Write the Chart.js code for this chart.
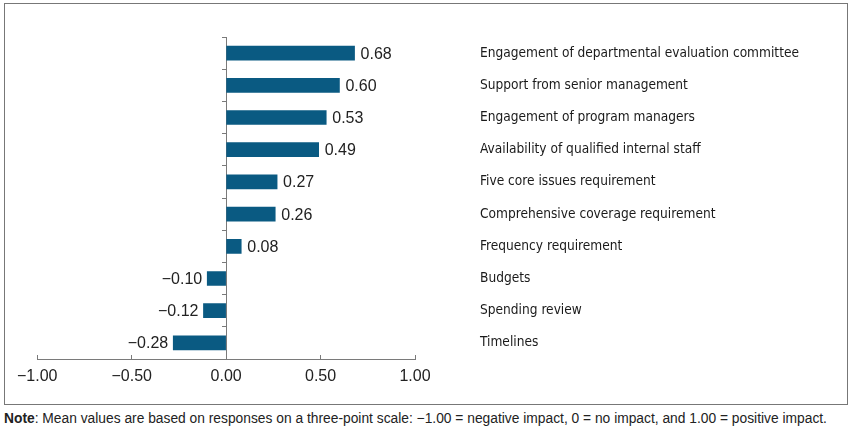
<!DOCTYPE html>
<html>
<head>
<meta charset="utf-8">
<script src="https://cdn.jsdelivr.net/npm/chart.js@4/dist/chart.umd.min.js"></script>
<style>
  body { margin: 0; background: #fff; font-family: 'Liberation Sans', Arial, sans-serif; }
  #box { position: absolute; left: 4px; top: 3px; width: 842px; height: 400px; border: 1px solid #777; }
  #note { position: absolute; left: 4px; top: 411px; font-size: 13.8px; color: #222; white-space: nowrap; }
</style>
</head>
<body>
<div id="box"><canvas id="chart" width="842" height="400"></canvas></div>
<div id="note"><b>Note</b>: Mean values are based on responses on a three-point scale: −1.00 = negative impact, 0 = no impact, and 1.00 = positive impact.</div>
<script>
// Catégories (du haut vers le bas)
const categories = [
    'Engagement of departmental evaluation committee',
    'Support from senior management',
    'Engagement of program managers',
    'Availability of qualified internal staff',
    'Five core issues requirement',
    'Comprehensive coverage requirement',
    'Frequency requirement',
    'Budgets',
    'Spending review',
    'Timelines'
];
const meanValues = [0.68, 0.60, 0.53, 0.49, 0.27, 0.26, 0.08, -0.10, -0.12, -0.28];
const xTicks = [-1, -0.5, 0, 0.5, 1];

const barColor = '#0a5a82';
const axisColor = '#7a7a7a';

// format avec le vrai signe moins
function fmt(v) {
    let s = Math.abs(v).toFixed(2);
    return v < 0 ? '\u2212' + s : s;
}

// Étiquettes de valeur au bout des barres
const valueLabels = {
    id: 'valueLabels',
    afterDatasetsDraw(chart) {
        const ctx = chart.ctx;
        const meta = chart.getDatasetMeta(0);
        ctx.save();
        ctx.font = '16px "Liberation Sans", Arial, sans-serif';
        ctx.fillStyle = '#222';
        ctx.textBaseline = 'middle';
        meta.data.forEach((bar, i) => {
            const v = meanValues[i];
            if (v >= 0) {
                ctx.textAlign = 'left';
                ctx.fillText(fmt(v), bar.x + 6, bar.y + 1);
            } else {
                ctx.textAlign = 'right';
                ctx.fillText(fmt(v), bar.x - 5, bar.y + 1);
            }
        });
        ctx.restore();
    }
};

new Chart(
    document.getElementById('chart'),
    {
        type: 'bar',
        data: {
            labels: categories,
            datasets: [{
                data: meanValues,
                backgroundColor: barColor,
                barThickness: 14
            }]
        },
        options: {
            indexAxis: 'y',
            responsive: false,
            animation: false,
            layout: {
                padding: { left: 31, top: 33, right: 0, bottom: 0 }
            },
            plugins: {
                legend: { display: false },
                tooltip: { enabled: false }
            },
            scales: {
                x: {
                    min: -1,
                    max: 1,
                    afterFit: s => { s.height = 45; },
                    afterBuildTicks: s => { s.ticks = xTicks.map(v => ({ value: v })); },
                    ticks: {
                        color: '#222',
                        padding: 12,
                        font: { size: 16, family: '"Liberation Sans", Arial, sans-serif' },
                        callback: v => fmt(v)
                    },
                    grid: {
                        drawOnChartArea: false,
                        tickLength: -4,
                        color: axisColor
                    },
                    border: { color: axisColor }
                },
                y: {
                    position: { x: 0 },
                    ticks: { display: false },
                    grid: {
                        drawOnChartArea: false,
                        tickLength: 4,
                        color: axisColor
                    },
                    border: { color: axisColor }
                },
                y2: {
                    type: 'category',
                    labels: categories,
                    position: 'right',
                    offset: true,
                    afterFit: s => { s.width = 432; },
                    ticks: {
                        color: '#1a1a1a',
                        padding: 2,
                        font: { size: 13.6, family: '"Liberation Sans Narrow", "DejaVu Sans Condensed", sans-serif' }
                    },
                    grid: {
                        drawOnChartArea: false,
                        tickLength: 63,
                        color: 'rgba(0,0,0,0)'
                    },
                    border: { display: false }
                }
            }
        },
        plugins: [valueLabels]
    }
);
</script>
</body>
</html>
